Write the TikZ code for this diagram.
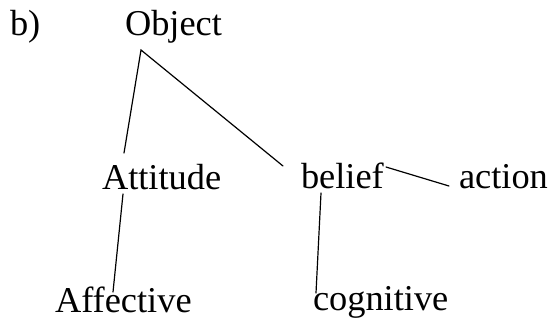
\documentclass[tikz,border=0pt]{standalone}
\usepackage{fontspec}
\setmainfont{Liberation Serif}
\begin{document}
\begin{tikzpicture}[x=1bp,y=-1bp,
  lbl/.style={anchor=base west,inner sep=0pt,outer sep=0pt,font=\fontsize{36.5}{40}\selectfont},
  conn/.style={line width=1.2bp,line cap=round}]
\useasboundingbox (0,0) rectangle (552,320);
\node[lbl] (b) at (10,35) {b)};
\node[lbl] (obj) at (125,35) {Object};
\node[lbl] (att) at (102,189) {Attitude};
\node[lbl] (bel) at (301,188) {belief};
\node[lbl] (act) at (459,188) {action};
\node[lbl] (aff) at (55,312) {Affective};
\node[lbl] (cog) at (313,310) {cognitive};
\draw[conn] ([shift={(22,-36)}]att.base west) -- ([shift={(16,15)}]obj.base west) -- ([shift={(-18,-22)}]bel.base west);
\draw[conn] ([shift={(21,5)}]att.base west) -- ([shift={(58,-20)}]aff.base west);
\draw[conn] ([shift={(85,-21)}]bel.base west) -- ([shift={(-10,-2)}]act.base west);
\draw[conn] ([shift={(20,5)}]bel.base west) -- ([shift={(3,-17)}]cog.base west);
\end{tikzpicture}
\end{document}
